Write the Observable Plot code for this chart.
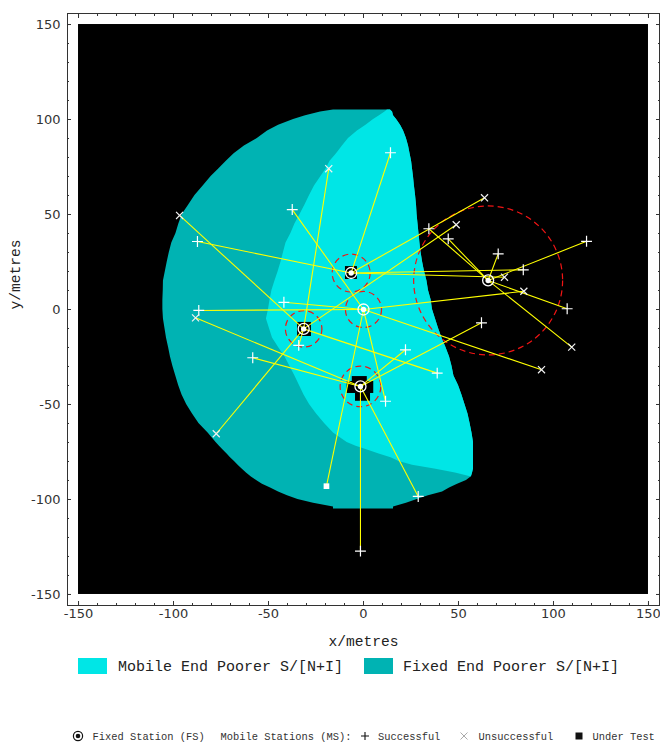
<!DOCTYPE html>
<html><head><meta charset="utf-8">
<script src="https://cdn.jsdelivr.net/npm/d3@7"></script>
<script src="https://cdn.jsdelivr.net/npm/@observablehq/plot@0.6"></script>
<style>
body{margin:0;background:#fff;}
#wrap{position:relative;width:660px;height:742px;overflow:hidden;}
.mono{font-family:"Liberation Mono","Courier New",monospace;color:#222;position:absolute;white-space:pre;}
.sw{position:absolute;}
</style></head><body><div id="wrap"></div>
<script>
// ---- data ----
const fieldExtent = [-150, 150];
const majorTicks = [-150, -100, -50, 0, 50, 100, 150];
const minorTicks = [-150,-140,-130,-120,-110,-100,-90,-80,-70,-60,-50,-40,-30,-20,-10,0,10,20,30,40,50,60,70,80,90,100,110,120,130,140,150];

// coverage rows (y, left edge, mobile/fixed boundary, right edge), metres
const rowY = [105,104,102,100,97,94,90,86,82,78,74,70,65,60,55,50,45,40,35,30,25,20,15,10,5,0,-5,-10,-15,-20,-25,-30,-35,-40,-45,-50,-55,-60,-65,-70,-72,-74,-76,-78,-80,-82,-84,-86,-88,-90,-92,-94,-96,-98,-100,-102,-104,-105];
const rowLeft = [-15.8,-22.6,-30.5,-36.8,-44.7,-50.5,-55.9,-62.7,-68.1,-72.2,-76.2,-80.2,-84.4,-88.7,-92,-95.4,-97.2,-98.7,-100.9,-102.2,-103.3,-104.3,-105.3,-105.4,-105.6,-105.6,-105.3,-104.5,-103.7,-102.6,-101.6,-100.3,-98.8,-97.3,-95.5,-93.1,-90,-86.6,-81.8,-77.6,-75.8,-73.9,-71.8,-70,-67.9,-66,-63.9,-61.6,-59.2,-56.3,-53.2,-48.9,-44.7,-40,-34.5,-26.3,-15.8,-15.8];
const rowMid = [12.6,11.3,8.4,5.3,1.3,-3.2,-7.9,-11.1,-14.2,-17.6,-19.7,-22.4,-25.8,-28.4,-30.8,-33.4,-36.1,-38.2,-40.8,-42.1,-43.4,-44.9,-46.6,-48.2,-49.2,-50,-51.1,-49.5,-47.9,-44.7,-41.3,-38.7,-36.1,-33.7,-31.3,-28.4,-24.7,-20.5,-15.8,-8.6,-3.9,2.1,8.2,14.5,18.7,25.8,37.4,48.4,56.3,null,null,null,null,null,null,null,null,null];
const rowRight = [14.2,15.3,15.8,17.4,19.5,21.1,22.6,23.7,24.5,25.3,25.8,26.3,26.8,27.4,27.9,28.2,28.7,29.2,29.7,30.3,31.1,32.1,33.4,34.2,35.6,36.3,37.9,39.5,41.3,43.4,45.3,46.6,47.6,50,51.8,53.4,55,56.1,57.1,57.9,57.9,57.9,57.9,57.9,57.9,57.9,57.9,57.4,56.8,54.2,49.5,45.3,41.6,34.2,28.3,22.6,15.8,15.8];

// uncovered cells next to fixed stations
const holeX1 = [-5.9, -8.6, -4.2, -34.7, -9.5];
const holeX2 = [2, 5.4, 3.7, -27.4, -3.2];
const holeY1 = [-35.3, -37.9, -44.2, -6.8, 22.6];
const holeY2 = [-37.9, -44.2, -48.3, -14.2, 15.8];

// fixed stations
const fsX = [-6.5, 0, -31.5, -1.6, 65.6];
const fsY = [19.2, 0, -10.2, -40.5, 15.3];
const fsRadius = [10, 9.5, 9.6, 10.7, 39.2];

// mobile stations
const msX = [-87.4, 14.2, 63.7, 84.1, 74.2, -37.5, 84.4, 93.7, 11.6, -19.5, -86.7, -41.9, -96.8, -18.3, 48.8, 38.8, -77.5, -34.1, 62.1, 22.1, 28.8, -1.6, -88.4, -58.3, 34.4, 44.6, 70.9, 107.2, 117.4, 109.6];
const msY = [35.8, 82.5, 58.8, 20.9, 17, 52.6, 9.6, -31.7, -48.3, -93, -0.5, 3.8, 49.5, 74.1, 44.6, -33.5, -65.4, -18.9, -7, -21.2, -98.4, -127.2, -4.4, -25.4, 42.5, 37.2, 29.3, 0.4, 35.9, -19.8];
const msStatus = ["S","S","U","S","U", "S","U","U","S","T","S","S", "U","U","U","S","U","S", "S","S","S","S","U","S", "S","S","S","S","S","U"];
const msServer = [0,0,0,0,0, 1,1,1,1,1,1,1, 2,2,2,2,2,2, 3,3,3,3,3,3, 4,4,4,4,4,4];

// ---- colours / layout ----
const lightCyan = "#00e6e6", darkCyan = "#00b3b3", yellow = "#ffff00", red = "#f01414";
const W = 660, H = 650, mL = 67, mR = 1, mT = 13, mB = 45;
const dom = [-155.8, 155.8];
const k = (W - mL - mR) / (dom[1] - dom[0]);
const sans = "DejaVu Sans, sans-serif";
const mono = "Liberation Mono, Courier New, monospace";

const rows = rowY.map((y, i) => ({y, xL: rowLeft[i], xM: rowMid[i], xR: rowRight[i]}));
const holes = holeX1.map((x1, i) => ({x1, x2: holeX2[i], y1: holeY1[i], y2: holeY2[i]}));
const fs = fsX.map((x, i) => ({x, y: fsY[i], r: fsRadius[i]}));
const ms = msX.map((x, i) => ({x, y: msY[i], status: msStatus[i], fx: fsX[msServer[i]], fy: fsY[msServer[i]]}));

const tickOnly = (ticks, anchor, size) =>
  (anchor === "top" || anchor === "bottom" ? Plot.axisX : Plot.axisY)(ticks, {anchor, tickSize: size, fill: "none", label: null, stroke: "#333"});

const chart = Plot.plot({
  width: W, height: H, marginLeft: mL, marginRight: mR, marginTop: mT, marginBottom: mB,
  x: {domain: dom}, y: {domain: dom},
  r: {type: "linear", domain: [0, 100], range: [0, 100 * k]},
  style: {background: "white", overflow: "visible"},
  marks: [
    Plot.rect([fieldExtent], {x1: d => d[0], x2: d => d[1], y1: d => d[0], y2: d => d[1], fill: "black"}),
    Plot.areaX(rows, {y: "y", x1: "xL", x2: "xR", fill: darkCyan}),
    Plot.areaX(rows, {y: "y", x1: "xM", x2: "xR", fill: lightCyan}),
    Plot.rect(holes, {x1: "x1", x2: "x2", y1: "y1", y2: "y2", fill: "black"}),
    Plot.dot(fs, {x: "x", y: "y", r: "r", stroke: red, strokeWidth: 1.2, strokeDasharray: "6,4", fill: "none"}),
    Plot.link(ms, {x1: "fx", y1: "fy", x2: "x", y2: "y", stroke: yellow, strokeWidth: 1.1}),
    Plot.dot(ms.filter(d => d.status === "S"), {x: "x", y: "y", symbol: "plus", r: 3.6, stroke: "white", strokeWidth: 1.2}),
    Plot.dot(ms.filter(d => d.status === "U"), {x: "x", y: "y", symbol: "times", r: 3.3, stroke: "#f2f2f2", strokeWidth: 1.2}),
    Plot.dot(ms.filter(d => d.status === "T"), {x: "x", y: "y", symbol: "square", r: 3.2, fill: "white"}),
    Plot.dot(fs, {x: "x", y: "y", r: 5.5, stroke: "white", strokeWidth: 1.3, fill: "none"}),
    Plot.dot(fs, {x: "x", y: "y", r: 2.7, fill: "white"}),
    Plot.frame({stroke: "#333", strokeWidth: 1}),
    tickOnly(majorTicks, "bottom", -4), tickOnly(minorTicks, "bottom", -2),
    tickOnly(majorTicks, "top", -4), tickOnly(minorTicks, "top", -2),
    tickOnly(majorTicks, "left", -4), tickOnly(minorTicks, "left", -2),
    tickOnly(majorTicks, "right", -4), tickOnly(minorTicks, "right", -2),
    Plot.axisX(majorTicks, {anchor: "bottom", tickSize: 0, tickPadding: 3, tickFormat: d => String(d), label: null, fontFamily: sans, fontSize: 13, fill: "#333"}),
    Plot.axisY(majorTicks, {anchor: "left", tickSize: 0, tickPadding: 7, tickFormat: d => String(d), label: null, fontFamily: sans, fontSize: 13, fill: "#333"}),
    Plot.text(["x/metres"], {text: d => d, frameAnchor: "bottom", dy: 40, lineAnchor: "bottom", fontFamily: mono, fontSize: 14.6, fill: "#222"}),
    Plot.text(["y/metres"], {text: d => d, frameAnchor: "left", dx: -52, rotate: -90, lineAnchor: "middle", fontFamily: mono, fontSize: 14.6, fill: "#222"})
  ]
});

const wrap = document.getElementById("wrap");
chart.style.position = "absolute"; chart.style.left = "0px"; chart.style.top = "0px";
wrap.appendChild(chart);

// ---- legends ----
function add(html){ wrap.insertAdjacentHTML("beforeend", html); }
add(`<div class="sw" style="left:78px;top:658px;width:29px;height:16px;background:${lightCyan}"></div>`);
add(`<div class="mono" style="left:118px;top:660px;font-size:15px;line-height:16px">Mobile End Poorer S/[N+I]</div>`);
add(`<div class="sw" style="left:364px;top:658px;width:29px;height:16px;background:${darkCyan}"></div>`);
add(`<div class="mono" style="left:403px;top:660px;font-size:15px;line-height:16px">Fixed End Poorer S/[N+I]</div>`);

const row2 = [
  ["Fixed Station (FS)", 92.5], ["Mobile Stations (MS):", 220.5], ["Successful", 378], ["Unsuccessful", 478.5], ["Under Test", 592.5]
];
row2.forEach(([t, x]) => add(`<div class="mono" style="left:${x}px;top:730.5px;font-size:10.4px;line-height:12px;color:#333">${t}</div>`));
add(`<svg style="position:absolute;left:0;top:726px" width="660" height="16">
  <circle cx="78" cy="10" r="4.6" fill="none" stroke="#111" stroke-width="1.2"/>
  <circle cx="78" cy="10" r="2.3" fill="#111"/>
  <path d="M361,10H369M365,6V14" stroke="#111" stroke-width="1.1"/>
  <path d="M460.5,6.5L467.5,13.5M467.5,6.5L460.5,13.5" stroke="#aaa" stroke-width="1"/>
  <rect x="575.5" y="6.5" width="7" height="7" fill="#111"/>
</svg>`);
</script></body></html>
